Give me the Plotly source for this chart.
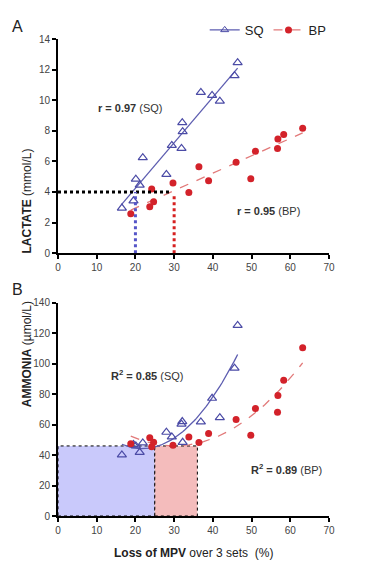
import numpy as np
import plotly.graph_objects as go

# ---- data ----
sq_loss = [16.5, 19.5, 20.1, 21.1, 21.9, 28.0, 29.4, 31.9, 32.1, 32.2, 36.9, 39.8, 41.8, 45.6, 46.4]
sq_lactate = [2.95, 3.42, 4.84, 4.45, 6.24, 5.15, 7.04, 6.85, 8.53, 7.94, 10.51, 10.31, 9.94, 11.6, 12.45]
sq_ammonia = [40.1, 46.9, 46.0, 41.8, 48.0, 55.0, 51.9, 60.3, 62.0, 48.4, 61.8, 77.3, 64.6, 97.1, 125.1]

bp_loss = [18.8, 23.7, 24.2, 24.7, 29.7, 33.8, 36.4, 38.9, 46.0, 49.8, 51.0, 56.7, 56.8, 58.3, 63.2]
bp_lactate = [2.57, 3.03, 4.19, 3.36, 4.58, 3.97, 5.65, 4.73, 5.95, 4.86, 6.67, 6.85, 7.46, 7.76, 8.16]
bp_ammonia = [47.5, 51.3, 45.5, 48.5, 46.5, 51.9, 48.2, 54.1, 63.3, 53.0, 70.6, 68.1, 79.1, 89.2, 110.4]

lactate_threshold = 4
sq_lactate_cut = 20
bp_lactate_cut = 30
ammonia_threshold = 46
sq_ammonia_cut = 25
bp_ammonia_cut = 36

x_ticks = [0, 10, 20, 30, 40, 50, 60, 70]

SQ_COL = "#4b4ba6"
SQ_LINE = "#5d5db0"
BP_COL = "#d3222a"
BP_LINE = "#e27a7a"
TXT = "#333333"
FONT = "Arial, Liberation Sans, sans-serif"


def fit(xs, ys, deg):
    c = np.polyfit(xs, ys, deg)
    xx = np.linspace(min(xs), max(xs), 60)
    return xx, np.polyval(c, xx)


fig = go.Figure()

# Panel A
xa, ya = fit(sq_loss, sq_lactate, 1)
fig.add_trace(go.Scatter(x=xa, y=ya, mode="lines", line=dict(color=SQ_LINE, width=1.3),
                         xaxis="x", yaxis="y", showlegend=False, hoverinfo="skip"))
xb, yb = fit(bp_loss, bp_lactate, 1)
fig.add_trace(go.Scatter(x=xb, y=yb, mode="lines", line=dict(color=BP_LINE, width=1.3, dash="dash"),
                         xaxis="x", yaxis="y", showlegend=False, hoverinfo="skip"))
fig.add_trace(go.Scatter(x=sq_loss, y=sq_lactate, mode="markers", name="SQ",
                         marker=dict(symbol="triangle-up-open", size=8, color=SQ_COL, line=dict(width=1.2)),
                         xaxis="x", yaxis="y", showlegend=False))
fig.add_trace(go.Scatter(x=bp_loss, y=bp_lactate, mode="markers", name="BP",
                         marker=dict(symbol="circle", size=7, color=BP_COL),
                         xaxis="x", yaxis="y", showlegend=False))

# Panel B
xa2, ya2 = fit(sq_loss, sq_ammonia, 2)
fig.add_trace(go.Scatter(x=xa2, y=ya2, mode="lines", line=dict(color=SQ_LINE, width=1.3),
                         xaxis="x2", yaxis="y2", showlegend=False, hoverinfo="skip"))
xb2, yb2 = fit(bp_loss, bp_ammonia, 2)
fig.add_trace(go.Scatter(x=xb2, y=yb2, mode="lines", line=dict(color=BP_LINE, width=1.3, dash="dash"),
                         xaxis="x2", yaxis="y2", showlegend=False, hoverinfo="skip"))
fig.add_trace(go.Scatter(x=sq_loss, y=sq_ammonia, mode="markers", name="SQ",
                         marker=dict(symbol="triangle-up-open", size=8, color=SQ_COL, line=dict(width=1.2)),
                         xaxis="x2", yaxis="y2", showlegend=False))
fig.add_trace(go.Scatter(x=bp_loss, y=bp_ammonia, mode="markers", name="BP",
                         marker=dict(symbol="circle", size=7, color=BP_COL),
                         xaxis="x2", yaxis="y2", showlegend=False))

# Legend entries
fig.add_trace(go.Scatter(x=[None], y=[None], mode="lines+markers", name="SQ",
                         line=dict(color=SQ_LINE, width=1.3),
                         marker=dict(symbol="triangle-up-open", size=7, color=SQ_COL),
                         xaxis="x", yaxis="y"))
fig.add_trace(go.Scatter(x=[None], y=[None], mode="lines+markers", name="BP",
                         line=dict(color=BP_LINE, width=1.3, dash="dash"),
                         marker=dict(symbol="circle", size=7, color=BP_COL),
                         xaxis="x", yaxis="y"))

shapes = [
    # panel A dotted guides
    dict(type="line", xref="x", yref="y", x0=0, x1=bp_lactate_cut - 1, y0=lactate_threshold, y1=lactate_threshold,
         line=dict(color="black", width=3, dash="dot")),
    dict(type="line", xref="x", yref="y", x0=sq_lactate_cut, x1=sq_lactate_cut, y0=0, y1=lactate_threshold,
         line=dict(color="#5555c8", width=3, dash="dot")),
    dict(type="line", xref="x", yref="y", x0=bp_lactate_cut, x1=bp_lactate_cut, y0=0, y1=lactate_threshold - 0.1,
         line=dict(color="#d62020", width=3, dash="dot")),
    # panel B rectangles
    dict(type="rect", xref="x2", yref="y2", x0=0, x1=sq_ammonia_cut, y0=0, y1=ammonia_threshold,
         fillcolor="#c9c9fb", line=dict(color="black", width=1, dash="dot"), layer="below"),
    dict(type="rect", xref="x2", yref="y2", x0=sq_ammonia_cut, x1=bp_ammonia_cut, y0=0, y1=ammonia_threshold,
         fillcolor="#f4bcbc", line=dict(color="black", width=1, dash="dot"), layer="below"),
]

ann_font = dict(family=FONT, size=11, color=TXT)
annotations = [
    dict(text="A", xref="paper", yref="paper", x=-0.148, y=1.005, xanchor="center", yanchor="bottom",
         showarrow=False, font=dict(family=FONT, size=16, color="#222")),
    dict(text="B", xref="paper", yref="paper", x=-0.148, y=0.452, xanchor="center", yanchor="bottom",
         showarrow=False, font=dict(family=FONT, size=16, color="#222")),
    dict(text="<b>r = 0.97</b> (SQ)", xref="x", yref="y", x=18.8, y=9.5, showarrow=False, font=ann_font),
    dict(text="<b>r = 0.95</b> (BP)", xref="x", yref="y", x=54.4, y=2.77, showarrow=False, font=ann_font),
    dict(text="<b>R<sup>2</sup> = 0.85</b> (SQ)", xref="x2", yref="y2", x=22.9, y=92.6, showarrow=False, font=ann_font),
    dict(text="<b>R<sup>2</sup> = 0.89</b> (BP)", xref="x2", yref="y2", x=59.1, y=30.7, showarrow=False, font=ann_font),
    dict(text="<b>LACTATE</b> (mmol/L)", xref="paper", yref="paper", x=-0.148, y=0.7755, textangle=-90,
         showarrow=False, font=dict(family=FONT, size=12, color="#222")),
    dict(text="<b>AMMONIA</b> (\u00b5mol/L)", xref="paper", yref="paper", x=-0.148, y=0.2236, textangle=-90,
         showarrow=False, font=dict(family=FONT, size=12, color="#222")),
    dict(text="<b>Loss of MPV</b> over 3 sets  (%)", xref="paper", yref="paper", x=0.5, y=-0.058,
         xanchor="center", yanchor="top", showarrow=False,
         font=dict(family=FONT, size=12, color="#222")),
]

axis_common = dict(showline=True, linecolor="black", linewidth=2, ticks="outside", ticklen=4,
                   tickwidth=1.5, tickcolor="black", showgrid=False, zeroline=False,
                   tickfont=dict(family=FONT, size=10, color="#444"))

fig.update_layout(
    width=369, height=579,
    margin=dict(l=58, r=40, t=39, b=63),
    paper_bgcolor="white", plot_bgcolor="white",
    xaxis=dict(domain=[0, 1], anchor="y", range=[0, 70], tickvals=x_ticks, **axis_common),
    yaxis=dict(domain=[0.551, 1], anchor="x", range=[0, 14], dtick=2, **axis_common),
    xaxis2=dict(domain=[0, 1], anchor="y2", range=[0, 70], tickvals=x_ticks, **axis_common),
    yaxis2=dict(domain=[0, 0.447], anchor="x2", range=[0, 140], dtick=20, **axis_common),
    shapes=shapes,
    annotations=annotations,
    showlegend=True,
    legend=dict(orientation="h", x=1.01, xanchor="right", y=1.019, yanchor="middle",
                font=dict(family=FONT, size=13, color="#222"),
                bgcolor="rgba(0,0,0,0)", itemwidth=30, tracegroupgap=0),
)

fig.write_html("out.html", config={"displayModeBar": False},
               post_script="document.body.style.margin='0';document.body.style.overflow='hidden';")
